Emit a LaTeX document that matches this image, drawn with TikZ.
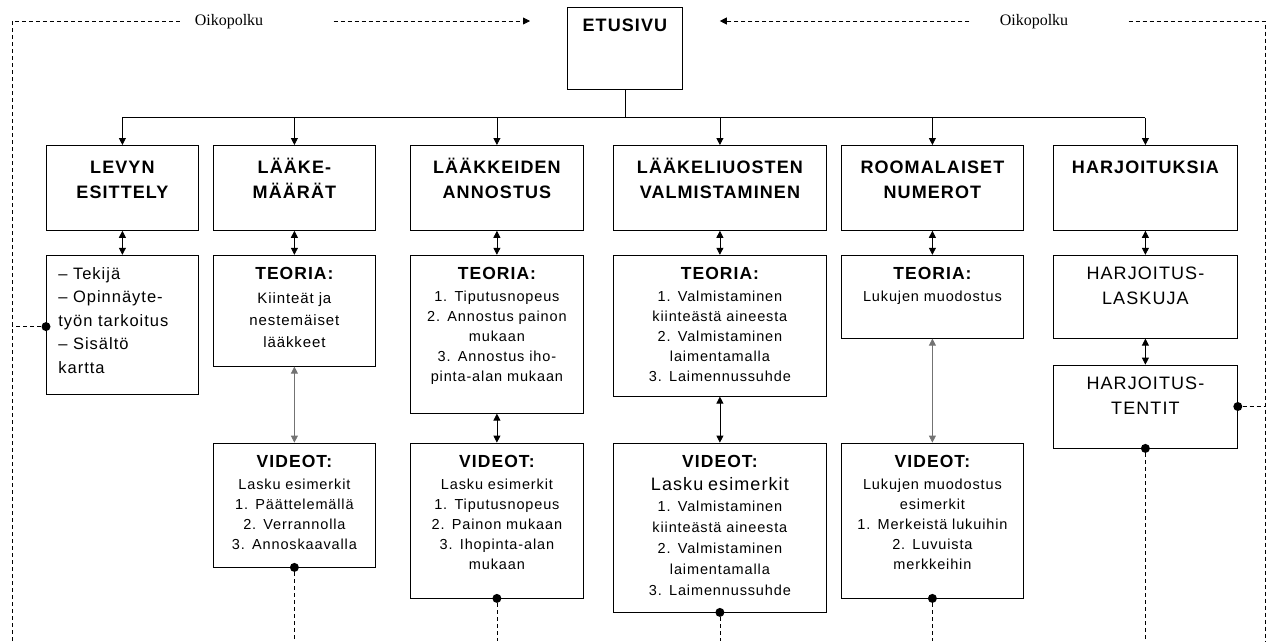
\documentclass[tikz,border=0pt]{standalone}
\usepackage{fontspec}
\setmainfont{Liberation Sans}[LetterSpace=6]
\newfontfamily\oikofont{Liberation Serif}
\usetikzlibrary{positioning,arrows.meta}
\newcommand\hdfont{\bfseries\fontsize{18}{25}\selectfont}
\newcommand\bdfont{\fontsize{14.5}{20}\selectfont}
\newcommand\boxtitle[1]{{\bfseries\fontsize{17.5}{24}\selectfont #1}\\[2pt]}
\tikzset{
  box/.style = {draw,fill=white,align=center,inner xsep=0pt,inner ysep=3pt,text height=21pt,font=\bdfont},
  head/.style = {box,font=\hdfont,text height=25pt,text depth=54pt},
  dot/.style = {circle,fill,inner sep=0pt,minimum size=9pt},
  arr/.style = {-{Triangle[length=7pt,width=7pt]}},
  darr/.style = {{Triangle[length=7pt,width=7pt]}-{Triangle[length=7pt,width=7pt]}},
  shortcut/.style = {dash pattern=on 4pt off 3pt},
  okp/.style = {font=\oikofont\fontsize{16}{18}\selectfont,inner sep=0pt}
}

\begin{document}
\begin{tikzpicture}[x=1pt,y=-1pt,line width=0.8pt]
\useasboundingbox (0,0) rectangle (1274,641);

% front page
\node[box,font=\hdfont,text width=115pt,text depth=55pt,anchor=north west] (etu) at (567,7) {ETUSIVU};

% main topics
\node[head,text width=152pt,anchor=north west] (h1) at (46,145) {LEVYN\\ESITTELY};
\node[head,text width=162pt,anchor=north west] (h2) at (213,145) {LÄÄKE-\\MÄÄRÄT};
\node[head,text width=173pt,anchor=north west] (h3) at (410,145) {LÄÄKKEIDEN\\ANNOSTUS};
\node[head,text width=213pt,anchor=north west] (h4) at (613,145) {LÄÄKELIUOSTEN\\VALMISTAMINEN};
\node[head,text width=182pt,anchor=north west] (h5) at (841,145) {ROOMALAISET\\NUMEROT};
\node[head,text width=184pt,anchor=north west] (h6) at (1053,145) {HARJOITUKSIA};

% theory
\node[box,text width=128pt,inner xsep=12pt,align=left,text depth=112pt,font=\fontsize{16.5}{23.5}\selectfont,below=24pt of h1] (c1)
  {-- Tekijä\\-- Opinnäyte-\\työn tarkoitus\\-- Sisältö\\kartta};
\node[box,text width=162pt,text depth=84pt,font=\fontsize{15}{22}\selectfont,below=24pt of h2] (c2)
  {\boxtitle{TEORIA:}Kiinteät ja\\nestemäiset\\lääkkeet};
\node[box,text width=173pt,text depth=131pt,below=24pt of h3] (c3)
  {\boxtitle{TEORIA:}1. Tiputusnopeus\\2. Annostus painon\\mukaan\\3. Annostus iho-\\pinta-alan mukaan};
\node[box,text width=213pt,text depth=114pt,below=24pt of h4] (c4)
  {\boxtitle{TEORIA:}1. Valmistaminen\\kiinteästä aineesta\\2. Valmistaminen\\laimentamalla\\3. Laimennussuhde};
\node[box,text width=182pt,text depth=56pt,below=24pt of h5] (c5)
  {\boxtitle{TEORIA:}Lukujen muodostus};
\node[box,text width=184pt,text depth=56pt,font=\fontsize{18}{25}\selectfont,below=24pt of h6] (c6)
  {HARJOITUS-\\LASKUJA};

% videos
\node[box,text width=162pt,text depth=97pt,below=76pt of c2] (v2)
  {\boxtitle{VIDEOT:}Lasku esimerkit\\1. Päättelemällä\\2. Verrannolla\\3. Annoskaavalla};
\node[box,text width=173pt,text depth=128pt,below=29pt of c3] (v3)
  {\boxtitle{VIDEOT:}Lasku esimerkit\\1. Tiputusnopeus\\2. Painon mukaan\\3. Ihopinta-alan\\mukaan};
\node[box,text width=213pt,text depth=142pt,font=\fontsize{14.5}{21}\selectfont,below=46pt of c4] (v4)
  {\boxtitle{VIDEOT:}{\fontsize{18}{24}\selectfont Lasku esimerkit}\\1. Valmistaminen\\kiinteästä aineesta\\2. Valmistaminen\\laimentamalla\\3. Laimennussuhde};
\node[box,text width=182pt,text depth=128pt,below=104pt of c5] (v5)
  {\boxtitle{VIDEOT:}Lukujen muodostus\\esimerkit\\1. Merkeistä lukuihin\\2. Luvuista\\merkkeihin};
\node[box,text width=184pt,text depth=56pt,font=\fontsize{18}{25}\selectfont,below=26pt of c6] (t6)
  {HARJOITUS-\\TENTIT};

% tree from the front page
\coordinate (bus) at ([yshift=-28pt]etu.south);
\draw (etu) -- (bus);
\draw (h1.north |- bus) -- (h6.north |- bus);
\foreach \i in {1,...,6}
  \draw[arr] (h\i.north |- bus) -- (h\i);
\foreach \i in {1,...,6}
  \draw[darr] (h\i) -- (c\i);
\foreach \a/\b/\c in {c2/v2/black!55,c3/v3/black,c4/v4/black,c5/v5/black!55,c6/t6/black}
  \draw[darr,\c] (\a) -- (\b);

% shortcuts
\coordinate (lb) at (12,641);
\coordinate (lt) at (12,21);
\coordinate (rb) at (1265,641);
\coordinate (rt) at (1265,21);
\node[okp] (ok1) at (229,22) {Oikopolku};
\node[okp] (ok2) at (1034,22) {Oikopolku};
\draw[shortcut] (lb) -- (lt) -- ([xshift=-14pt]ok1.west |- lt);
\draw[shortcut,arr] ([xshift=70pt]ok1.east |- lt) -- ([xshift=-37pt]etu.west |- lt);
\draw[shortcut,arr] ([xshift=-30pt]ok2.west |- rt) -- ([xshift=37pt]etu.east |- rt);
\draw[shortcut] ([xshift=60pt]ok2.east |- rt) -- (rt) -- (rb);

\node[dot] (dc1) at ([yshift=68pt]c1.south west) {};
\draw[shortcut] (dc1) -- (dc1 -| lb);
\node[dot] (dt6e) at (t6.east) {};
\draw[shortcut] (dt6e) -- (dt6e -| rb);
\foreach \v in {v2,v3,v4,v5,t6} {
  \node[dot] (d\v) at (\v.south) {};
  \draw[shortcut] (d\v) -- (d\v |- lb);
}
\end{tikzpicture}
\end{document}
